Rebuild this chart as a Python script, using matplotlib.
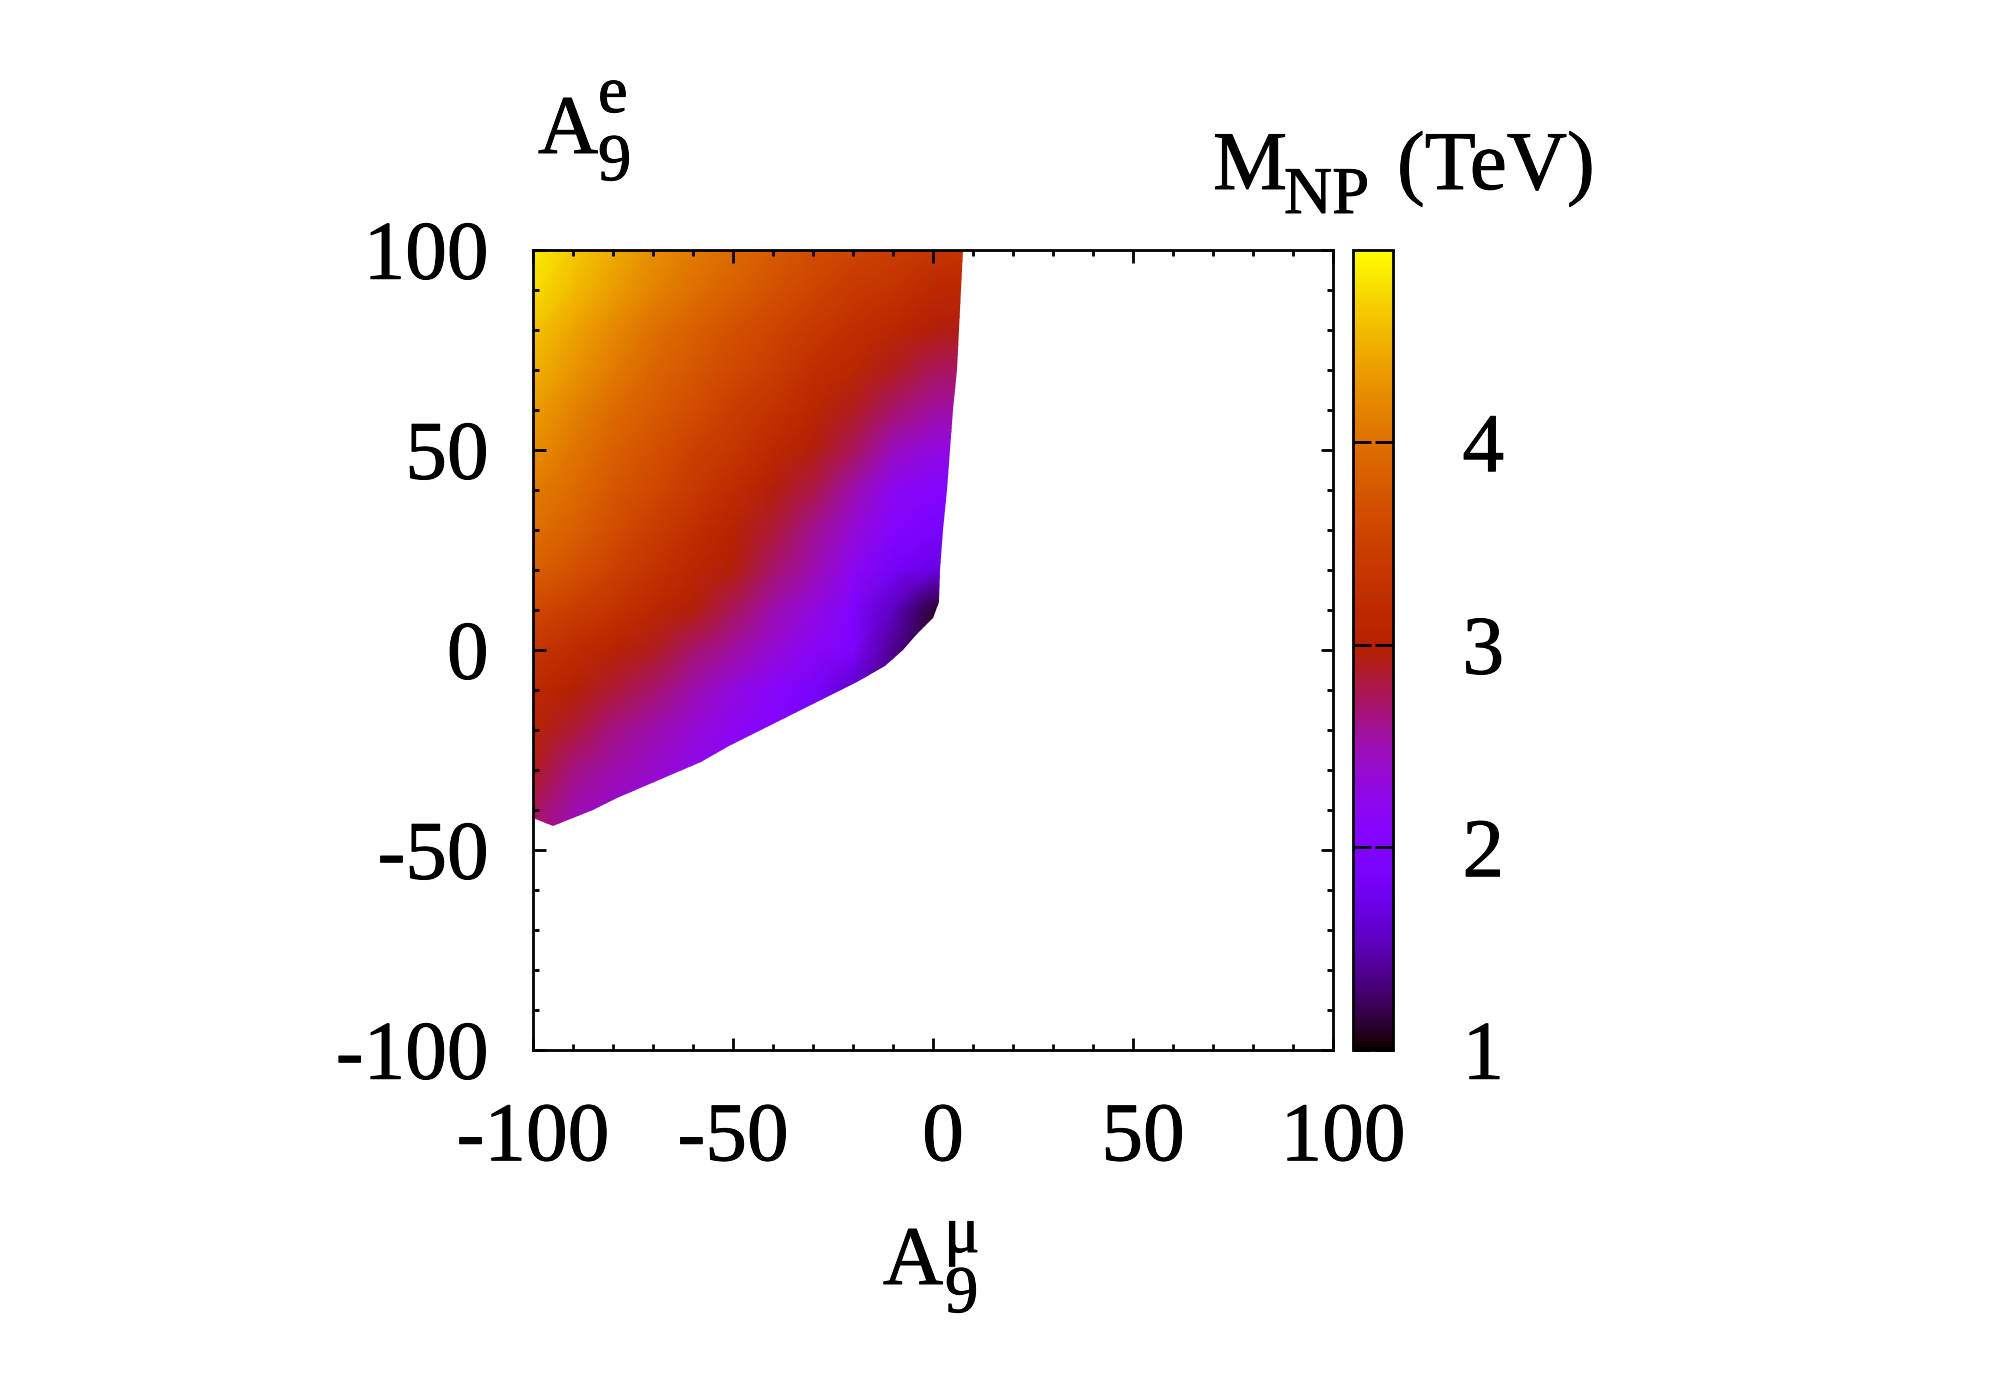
import numpy as np
import matplotlib
matplotlib.use("Agg")
import matplotlib.pyplot as plt
from matplotlib.patches import Polygon
from matplotlib.ticker import MultipleLocator
import matplotlib.patheffects as pe
import matplotlib.transforms as mtransforms

plt.rcParams['font.family'] = ['Liberation Serif', 'DejaVu Serif']

# ---- data ----
# grid nodes of A9^mu (x) and A9^e (y) where M_NP was read
x_nodes = [-100, -90, -80, -70, -60, -50, -40, -30, -20, -10, 0, 10]
y_nodes = [-50, -40, -30, -20, -10, 0, 10, 20, 30, 40, 50, 60, 70, 80, 90, 100]
# M_NP (TeV) read at each node (rows = y_nodes, columns = x_nodes)
m_np = [
    [2.65, 2.45, 2.30, 2.15, 2.05, 1.95, 1.80, 1.65, 1.50, 1.30, 1.10, 1.10],  # y=-50
    [2.75, 2.50, 2.40, 2.30, 2.15, 2.05, 1.90, 1.70, 1.50, 1.30, 1.10, 1.10],  # y=-40
    [2.90, 2.65, 2.50, 2.40, 2.25, 2.10, 1.95, 1.75, 1.50, 1.30, 1.10, 1.10],  # y=-30
    [3.05, 2.85, 2.65, 2.50, 2.35, 2.20, 2.05, 1.85, 1.55, 1.30, 1.10, 1.10],  # y=-20
    [3.15, 3.00, 2.85, 2.70, 2.50, 2.30, 2.10, 1.90, 1.60, 1.30, 1.10, 1.10],  # y=-10
    [3.35, 3.20, 3.05, 2.90, 2.70, 2.55, 2.35, 2.15, 1.95, 1.40, 1.10, 1.10],  # y=0
    [3.60, 3.45, 3.30, 3.10, 2.95, 2.75, 2.50, 2.30, 2.00, 1.55, 1.15, 1.10],  # y=10
    [3.85, 3.70, 3.50, 3.30, 3.10, 2.95, 2.70, 2.50, 2.20, 1.85, 1.70, 1.65],  # y=20
    [4.00, 3.85, 3.65, 3.45, 3.25, 3.05, 2.85, 2.60, 2.35, 2.05, 1.90, 1.85],  # y=30
    [4.10, 3.95, 3.75, 3.60, 3.40, 3.20, 2.95, 2.80, 2.50, 2.20, 2.05, 2.00],  # y=40
    [4.25, 4.05, 3.85, 3.70, 3.50, 3.35, 3.15, 2.95, 2.75, 2.45, 2.30, 2.25],  # y=50
    [4.35, 4.15, 3.95, 3.80, 3.65, 3.45, 3.30, 3.10, 2.90, 2.70, 2.55, 2.50],  # y=60
    [4.50, 4.30, 4.10, 3.90, 3.75, 3.60, 3.45, 3.25, 3.10, 2.90, 2.75, 2.70],  # y=70
    [4.60, 4.40, 4.20, 4.00, 3.85, 3.70, 3.55, 3.40, 3.25, 3.10, 2.95, 2.90],  # y=80
    [4.75, 4.55, 4.35, 4.15, 4.00, 3.85, 3.70, 3.55, 3.40, 3.30, 3.15, 3.10],  # y=90
    [4.85, 4.65, 4.45, 4.25, 4.10, 3.95, 3.80, 3.65, 3.55, 3.45, 3.35, 3.30],  # y=100
]
# outline of the populated region (A9^mu, A9^e)
edge_x = [-100, 7.5, 7.0, 6.5, 6.0, 5.0, 4.3, 3.5, 2.5, 1.8, 1.5, 0.0, -4.0, -7.5,
          -12, -19, -27, -35, -43, -51, -58, -65, -72, -79, -85, -90, -95, -100]
edge_y = [100, 100, 90, 80, 70, 60, 50, 40, 30, 20, 12, 8, 4, 0,
          -4, -8, -12, -16, -20, -24, -28, -31, -34, -37, -40, -42, -44, -42]

x_ticks = [-100, -50, 0, 50, 100]
y_ticks = [-100, -50, 0, 50, 100]
cb_ticks = [1, 2, 3, 4]
m_min, m_max = 1.0, 4.95

# ---- figure ----
W, H = 2000, 1400
DPI = 200
fig = plt.figure(figsize=(W / DPI, H / DPI), dpi=DPI)
ax = fig.add_axes([533 / W, 1 - 1050 / H, 800 / W, 800 / H])
cax = fig.add_axes([1353 / W, 1 - 1050 / H, 40 / W, 800 / H])

X, Y = np.meshgrid(np.array(x_nodes, float), np.array(y_nodes, float))
C = np.array(m_np, float)
mesh = ax.pcolormesh(X, Y, C, shading='gouraud', cmap='gnuplot',
                     vmin=m_min, vmax=m_max, rasterized=True)
poly = Polygon(np.column_stack([edge_x, edge_y]), closed=True,
               facecolor='none', edgecolor='none', transform=ax.transData)
ax.add_patch(poly)
mesh.set_clip_path(poly)

ax.set_xlim(-100, 100)
ax.set_ylim(-100, 100)
ax.set_xticks(x_ticks)
ax.set_yticks(y_ticks)
ax.set_xticklabels([str(t) for t in x_ticks])
ax.set_yticklabels([str(t) for t in y_ticks])
ax.xaxis.set_minor_locator(MultipleLocator(10))
ax.yaxis.set_minor_locator(MultipleLocator(10))
ax.tick_params(which='both', direction='in', top=True, right=True, width=1.0)
ax.tick_params(which='major', length=4.5)
ax.tick_params(which='minor', length=2.3)
ax.tick_params(axis='x', which='major', labelsize=30, pad=19)
ax.tick_params(axis='y', which='major', labelsize=30, pad=16)
for s in ax.spines.values():
    s.set_linewidth(1.0)

stroke = [pe.withStroke(linewidth=0.35, foreground='black')]

# gnuplot centres non-negative x labels slightly to the right
for lab, t in zip(ax.get_xticklabels(), x_ticks):
    if t >= 0:
        lab.set_transform(lab.get_transform() +
                          mtransforms.ScaledTranslation(10 / DPI, 0, fig.dpi_scale_trans))
for lab in ax.get_xticklabels() + ax.get_yticklabels():
    lab.set_path_effects(stroke)

cb = fig.colorbar(mesh, cax=cax)
cb.set_ticks(cb_ticks)
cb.set_ticklabels([str(t) for t in cb_ticks])
cb.outline.set_linewidth(1.0)
cax.tick_params(which='major', direction='in', left=True, right=True,
                length=6.5, width=1.0, labelsize=30, pad=25)
cax.minorticks_off()
for lab in cax.get_yticklabels():
    lab.set_path_effects(stroke)

# axis titles built from pieces (gnuplot-style stacked sub/superscripts)
def fx(px):
    return px / W

def fy(py):
    return 1 - py / H

def t(px, py, s, size):
    fig.text(fx(px), fy(py), s, fontsize=size, va='baseline', ha='left',
             path_effects=stroke)

t(538, 153, 'A', 30)
t(598, 112, 'e', 24)
t(598, 180, '9', 24)

t(883, 1284, 'A', 30)
t(944, 1252, 'μ', 24)
t(945, 1312, '9', 24)

t(1213, 189, 'M', 30)
t(1284, 213, 'NP', 24)
t(1397, 189, '(TeV)', 30)

fig.savefig('out.png', dpi=DPI, facecolor='white')
